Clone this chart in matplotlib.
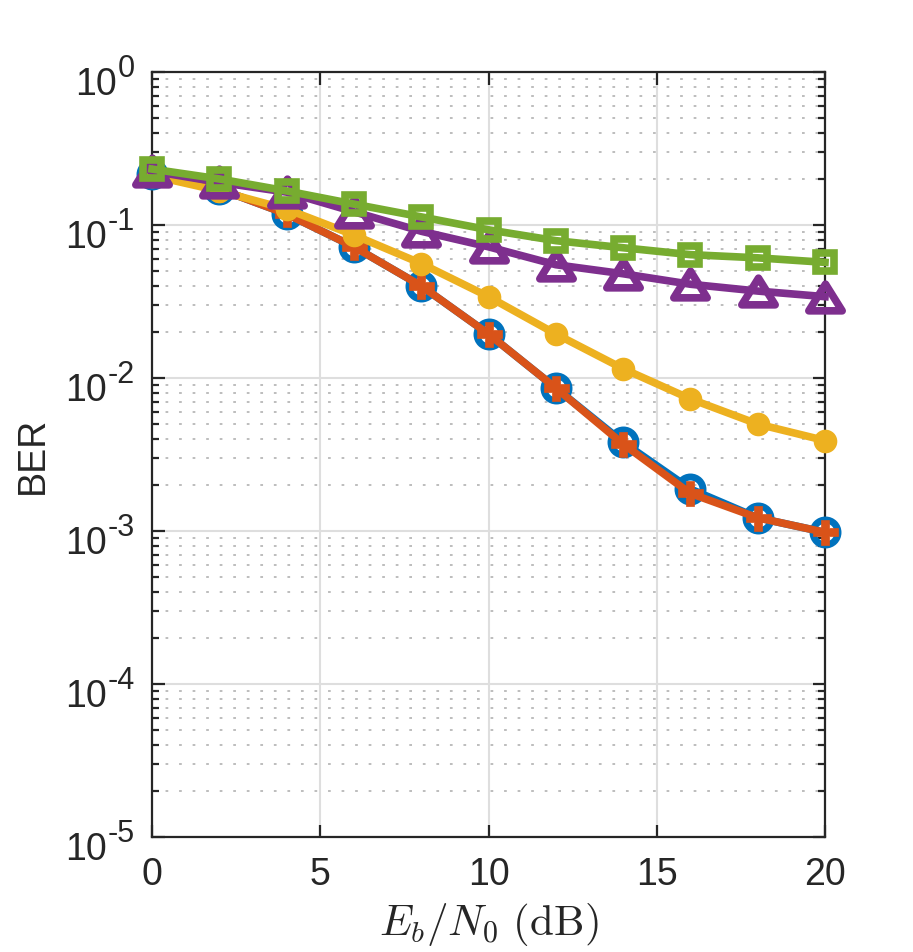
import matplotlib
matplotlib.use("Agg")
import matplotlib.pyplot as plt
from matplotlib.ticker import LogLocator, NullFormatter
from matplotlib.transforms import offset_copy, blended_transform_factory
from matplotlib.path import Path

plt.rcParams['font.family'] = ['Liberation Sans', 'DejaVu Sans']

ebn0 = [0, 2, 4, 6, 8, 10, 12, 14, 16, 18, 20]
ber_blue = [0.215, 0.172, 0.118, 0.072, 0.040, 0.0194, 0.0086, 0.0038, 0.00188, 0.00122, 0.00098]
ber_orange = [0.215, 0.172, 0.118, 0.072, 0.040, 0.0194, 0.0086, 0.0037, 0.00176, 0.00122, 0.00098]
ber_yellow = [0.21, 0.167, 0.127, 0.086, 0.056, 0.034, 0.0194, 0.0115, 0.0073, 0.0050, 0.0039]
ber_purple = [0.225, 0.19, 0.164, 0.122, 0.091, 0.072, 0.055, 0.048, 0.041, 0.037, 0.034]
ber_green = [0.232, 0.200, 0.167, 0.137, 0.113, 0.093, 0.079, 0.071, 0.064, 0.061, 0.057]

ytick_vals = [1e-5, 1e-4, 1e-3, 1e-2, 1e-1, 1e0]
ytick_exps = ['-5', '-4', '-3', '-2', '-1', '0']
xtick_vals = [0, 5, 10, 15, 20]

TXT = '#262626'
FS = 27

fig = plt.figure(figsize=(9.13, 9.53), dpi=100)
ax = fig.add_axes([0.1665, 0.1207, 0.7371, 0.8027])

tri = Path([(0, 0.8), (-1, -0.8), (1, -0.8), (0, 0.8)],
           [Path.MOVETO, Path.LINETO, Path.LINETO, Path.CLOSEPOLY])

lw = 5.5
common = dict(lw=lw, clip_on=False)
ax.plot(ebn0, ber_blue, color='#0072BD', marker='o', ms=18, mfc='none', mew=5, zorder=3, **common)
ax.plot(ebn0, ber_orange, color='#D95319', marker='P', ms=18, mfc='#D95319', mec='#D95319', mew=0.5, zorder=4, **common)
ax.plot(ebn0, ber_yellow, color='#EDB120', marker='o', ms=15, mfc='#EDB120', mec='#EDB120', mew=2, zorder=5, **common)
ax.plot(ebn0, ber_purple, color='#7E2F8E', marker=tri, ms=24, mfc='none', mew=5.5, zorder=6, **common)
ax.plot(ebn0, ber_green, color='#77AC30', marker='s', ms=13.5, mfc='none', mew=5.5, zorder=7, **common)

ax.set_yscale('log')
ax.set_xlim(0, 20)
ax.set_ylim(1e-5, 1)
ax.set_xticks(xtick_vals)
ax.set_xticklabels([str(v) for v in xtick_vals])
ax.set_yticks(ytick_vals)
ax.set_yticklabels([])
ax.yaxis.set_minor_locator(LogLocator(base=10, subs=range(2, 10), numticks=20))
ax.yaxis.set_minor_formatter(NullFormatter())

ax.grid(True, which='major', axis='both', color='#dedede', lw=1.5, ls='-', zorder=0)
ax.grid(True, which='minor', axis='y', color='#b8b8b8', lw=1.3, ls=(0, (1.5, 6)), zorder=0)
ax.set_axisbelow(True)

for s in ax.spines.values():
    s.set_color(TXT)
    s.set_linewidth(1.6)
ax.tick_params(which='both', direction='in', top=True, right=True, colors=TXT,
               labelsize=FS, width=1.6)
ax.tick_params(which='major', length=9, pad=14)
ax.tick_params(which='minor', length=5)

# y tick labels drawn as base "10" plus a large exponent (MATLAB style)
fig.canvas.draw()
renderer = fig.canvas.get_renderer()
btrans = blended_transform_factory(ax.transAxes, ax.transData)
for v, e in zip(ytick_vals, ytick_exps):
    t_exp = ax.text(0, v, e, fontsize=22, color=TXT, ha='right', va='baseline',
                    transform=offset_copy(btrans, fig=fig, x=-17, y=-4, units='dots'))
    w = t_exp.get_window_extent(renderer).width
    ax.text(0, v, '10', fontsize=FS, color=TXT, ha='right', va='baseline',
            transform=offset_copy(btrans, fig=fig, x=-17 - w - 1, y=-22, units='dots'))

ax.set_ylabel('BER', fontsize=FS, color=TXT)
ax.yaxis.set_label_coords(-0.15, 0.5)
ax.set_xlabel(r'$E_b/N_0\ \mathrm{(dB)}$', fontsize=31, color=TXT, math_fontfamily='cm')
ax.xaxis.set_label_coords(0.5, -0.083)

fig.savefig('out.png', dpi=100)
